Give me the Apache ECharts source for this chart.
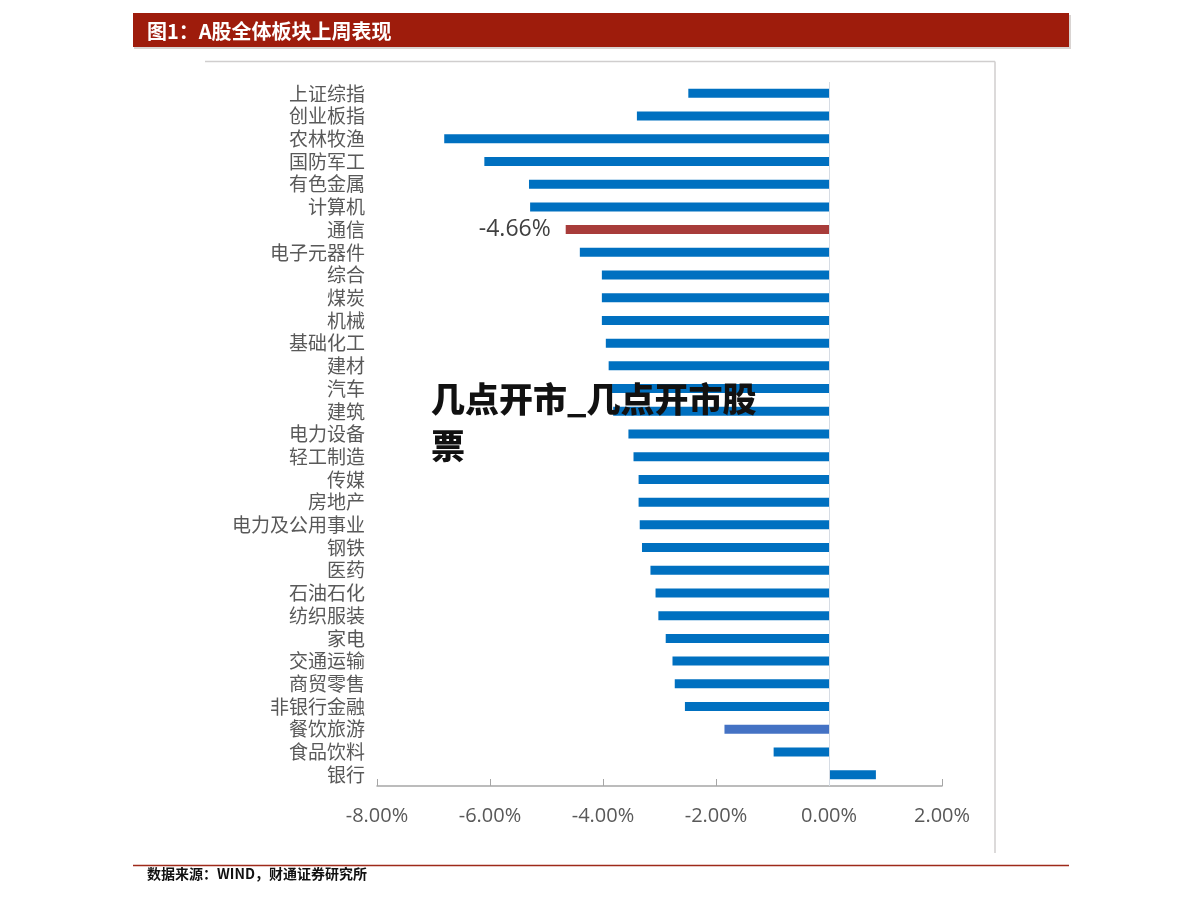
<!DOCTYPE html>
<html>
<head>
<meta charset="utf-8">
<script src="https://cdn.jsdelivr.net/npm/echarts@6/dist/echarts.min.js"></script>
<style>
html,body{margin:0;padding:0;background:#fff;}
#chart{width:1191px;height:903px;}
</style>
</head>
<body>
<div id="chart"></div>
<script>
const categories = ['上证综指','创业板指','农林牧渔','国防军工','有色金属','计算机','通信','电子元器件','综合','煤炭','机械','基础化工','建材','汽车','建筑','电力设备','轻工制造','传媒','房地产','电力及公用事业','钢铁','医药','石油石化','纺织服装','家电','交通运输','商贸零售','非银行金融','餐饮旅游','食品饮料','银行'];
const values = [-2.49,-3.40,-6.81,-6.10,-5.31,-5.29,-4.66,-4.41,-4.02,-4.02,-4.02,-3.95,-3.90,-3.84,-3.82,-3.55,-3.46,-3.37,-3.37,-3.35,-3.31,-3.16,-3.07,-3.02,-2.89,-2.77,-2.73,-2.55,-1.85,-0.98,0.83];
const highlightRed = '通信';
const highlightLight = '餐饮旅游';
const titleText = '图1：A股全体板块上周表现';
const sourceText = '数据来源：WIND，财通证券研究所';
const watermark1 = '几点开市_几点开市股';
const watermark2 = '票';

const chart = echarts.init(document.getElementById('chart'));
const cjk = '"Noto Sans CJK SC", sans-serif';

const data = categories.map((c, i) => {
  const item = { value: values[i] };
  if (c === highlightRed) {
    item.itemStyle = { color: '#A83C3A' };
    item.label = {
      show: true, position: 'left', distance: 15,
      formatter: p => p.value.toFixed(2) + '%',
      fontSize: 23, color: '#404040', fontFamily: '"Open Sans", "Noto Sans", sans-serif'
    };
  } else if (c === highlightLight) {
    item.itemStyle = { color: '#4472C4' };
  }
  return item;
});

chart.setOption({
  animation: false,
  backgroundColor: '#fff',
  grid: { left: 377, right: 249, top: 82, bottom: 117, containLabel: false },
  xAxis: {
    type: 'value', min: -8, max: 2, interval: 2,
    axisLine: { show: true, lineStyle: { color: '#A6A6A6', width: 1.5 } },
    axisTick: { show: true, inside: true, length: 7, lineStyle: { color: '#A6A6A6' } },
    splitLine: { show: false },
    axisLabel: {
      formatter: v => v.toFixed(2) + '%',
      color: '#595959', fontSize: 20, margin: 20,
      fontFamily: '"Open Sans", "Noto Sans", sans-serif'
    }
  },
  yAxis: {
    type: 'category', data: categories, inverse: true,
    axisLine: { show: false }, axisTick: { show: false },
    axisLabel: { interval: 0, color: '#595959', fontSize: 19, margin: 12, fontFamily: cjk }
  },
  series: [{
    type: 'bar', data: data, barWidth: 9,
    itemStyle: { color: '#0070C0' },
    markLine: {
      silent: true, symbol: 'none', label: { show: false },
      lineStyle: { color: '#D6DCE4', width: 1, type: 'solid' },
      data: [{ xAxis: 0 }]
    }
  }],
  graphic: [
    { type: 'rect', shape: { x: 134, y: 15, width: 937, height: 34 }, style: { fill: '#D9D4D2' }, z: 1 },
    { type: 'rect', shape: { x: 133, y: 13, width: 936, height: 34 }, style: { fill: '#9E1C0C' }, z: 2 },
    { type: 'text', x: 147, y: 31, style: { text: titleText, fill: '#fff', fontSize: 20, fontWeight: 'bold', fontFamily: cjk, verticalAlign: 'middle' }, z: 3 },
    { type: 'line', shape: { x1: 205, y1: 61.5, x2: 995, y2: 61.5 }, style: { stroke: '#D0CECE', lineWidth: 1.5 }, z: 1 },
    { type: 'line', shape: { x1: 995, y1: 61.5, x2: 995, y2: 853 }, style: { stroke: '#D0CECE', lineWidth: 1.5 }, z: 1 },
    { type: 'line', shape: { x1: 133, y1: 865.5, x2: 1069, y2: 865.5 }, style: { stroke: '#9E2A1A', lineWidth: 1.5 }, z: 1 },
    { type: 'text', x: 147, y: 874, style: { text: sourceText, fill: '#111', fontSize: 14, fontWeight: 'bold', fontFamily: cjk, verticalAlign: 'middle' }, z: 3 },
    { type: 'text', x: 431, y: 399, style: { text: watermark1, fill: '#111', fontSize: 34, fontWeight: 900, fontFamily: cjk, verticalAlign: 'middle' }, z: 100 },
    { type: 'text', x: 431, y: 446, style: { text: watermark2, fill: '#111', fontSize: 34, fontWeight: 900, fontFamily: cjk, verticalAlign: 'middle' }, z: 100 }
  ]
});
</script>
</body>
</html>
